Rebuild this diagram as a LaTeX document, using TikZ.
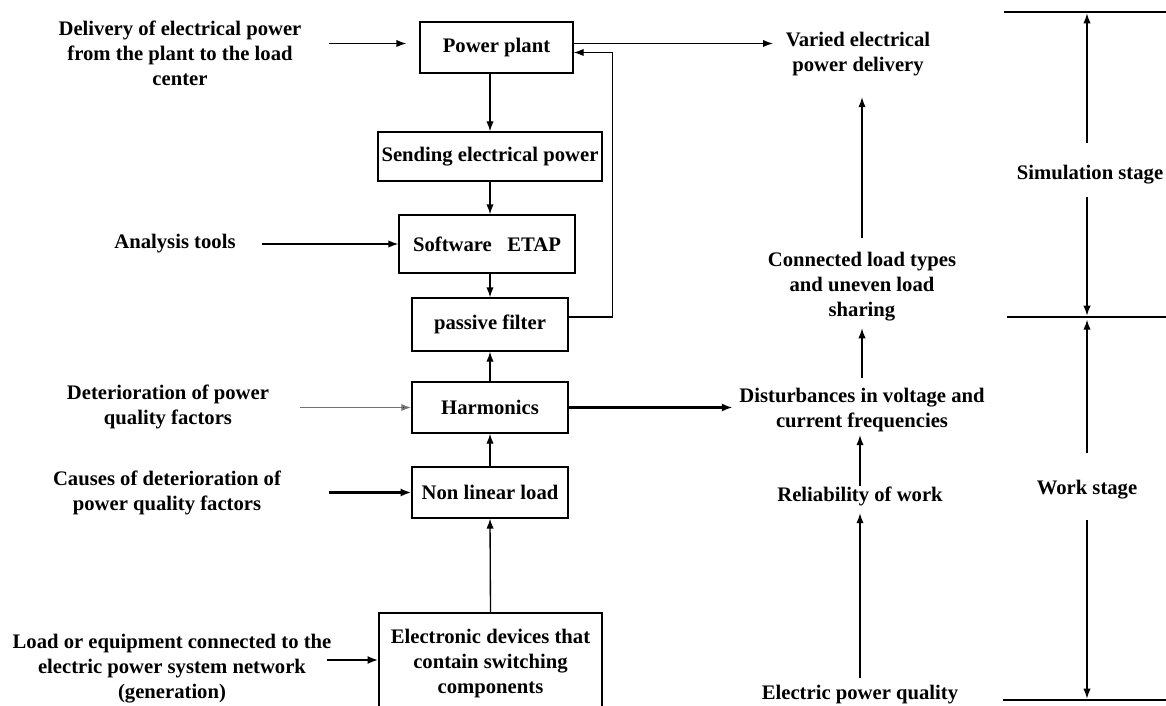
\documentclass[tikz,border=0pt]{standalone}
\usepackage{fontspec}
\setmainfont{Liberation Serif}
\usetikzlibrary{arrows.meta,calc}
\begin{document}
\begin{tikzpicture}[x=0.75pt,y=-0.75pt,
 every node/.style={font=\bfseries\fontsize{15.5pt}{18.75pt}\selectfont, align=center},
 box/.style={draw, line width=1pt, inner sep=0pt},
 lbl/.style={inner sep=0pt},
 arr/.style={line width=1pt, -{Latex[length=7.5pt,width=5.5pt]}},
 arrthick/.style={line width=2pt, -{Latex[length=8pt,width=6pt]}},
 arrgray/.style={line width=1.4pt, draw=black!55, -{Latex[length=7.5pt,width=5.5pt,fill=black]}},
 stageline/.style={line width=2.2pt},
]
\useasboundingbox (0,0) rectangle (1166,706);
\clip (0,0) rectangle (1166,706);

% boxes
\node[box, minimum width=114.75pt, minimum height=38.25pt] (pp) at (496.5,47.5) {Power plant};
\node[box, minimum width=168pt, minimum height=36.75pt] (send) at (490,156.5) {Sending electrical power};
\node[box, minimum width=132pt, minimum height=43.5pt] (etap) at (487,244) {Software\enspace\ ETAP};
\node[box, minimum width=117pt, minimum height=39.75pt] (filt) at (490,324.5) {passive filter};
\node[box, minimum width=117pt, minimum height=38.25pt] (harm) at (490,407.5) {Harmonics};
\node[box, minimum width=117pt, minimum height=38.25pt] (nll) at (490,492.5) {Non linear load};
\node[box, minimum width=167.25pt, minimum height=76.5pt] (elec) at (490.5,664) {Electronic devices that\\contain switching\\components};

% left labels
\node[lbl] (deliv) at (180,53) {Delivery of electrical power\\from the plant to the load\\center};
\node[lbl] (anal) at (175,244) {Analysis tools};
\node[lbl] (deter) at (168,406.5) {Deterioration of power\\quality factors};
\node[lbl] (cause) at (167,493) {Causes of deterioration of\\power quality factors};
\node[lbl] (load) at (172,669) {Load or equipment connected to the\\electric power system network\\(generation)};

% right column labels
\node[lbl] (var) at (858,54.5) {Varied electrical\\power delivery};
\node[lbl] (conn) at (862,287) {Connected load types\\and uneven load\\sharing};
\node[lbl] (dist) at (862,410) {Disturbances in voltage and\\current frequencies};
\node[lbl] (rel) at (860,496) {Reliability of work};
\node[lbl] (epq) at (860,695) {Electric power quality};

% stage labels
\node[lbl] (sim) at (1090,175) {Simulation stage};
\node[lbl] (work) at (1087,490) {Work stage};
\coordinate (t1) at (1087,12);
\coordinate (t2) at (1087,317);
\coordinate (t3) at (1087,700);

% main column connectors
\coordinate (ppin) at ($(pp.west)+(0,-4)$);
\coordinate (ppout) at ($(pp.east)+(0,-4)$);
\coordinate (ppback) at ($(pp.east)+(0,5)$);
\coordinate (filtout) at ($(filt.east)+(0,-7.5)$);
\coordinate (elecin) at ($(elec.west)+(0,-4)$);

\draw[arr, shorten <=20.6pt, shorten >=9.75pt] (deliv.east |- ppin) -- (ppin);
\draw[arr] (pp.south -| send.north) -- (send.north);
\draw[arr] (send.south) -- (send.south |- etap.north);
\draw[arr, shorten <=19.5pt] (anal.east) -- (anal.east -| etap.west);
\draw[arr] (etap.south -| filt.north) -- (filt.north);
\draw[arr] (harm.north) -- (filt.south);
\draw[arrgray, shorten <=22.9pt] (deter.east |- harm.west) -- (harm.west);
\draw[arr] (nll.north) -- (harm.south);
\draw[arrthick, shorten <=35.6pt] (cause.east |- nll.west) -- (nll.west);
\draw[arr] (elec.north) -- (nll.south);
\draw[arrthick, shorten <=-3.75pt] (load.east |- elecin) -- (elecin);

% feedback and output
\draw[arr] (filtout) -- ++(44,0) |- (ppback);
\draw[arr, shorten >=9.4pt] (ppout) -- (ppout -| var.west);
\draw[arrthick, shorten >=4.9pt] (harm.east) -- (harm.east -| dist.west);

% right column connectors
\draw[arr, shorten <=10.9pt, shorten >=15.4pt] (conn.north) -- (conn.north |- var.south);
\draw[arr, shorten <=7.5pt, shorten >=4.9pt] (dist.north) -- (dist.north |- conn.south);
\draw[arr, shorten >=2.25pt] (rel.north) -- (rel.north |- dist.south);
\draw[arr, shorten <=5.6pt, shorten >=5.6pt] (epq.north) -- (epq.north |- rel.south);

% stage markers
\draw[stageline] (1004,12) -- (1170,12);
\draw[stageline] (1007,317) -- (1170,317);
\draw[stageline] (1003,700) -- (1170,700);
\draw[arr, shorten <=16.9pt, shorten >=1pt] (sim.north -| t1) -- (t1);
\draw[arr, shorten <=9.4pt, shorten >=1pt] (sim.south -| t2) -- (t2);
\draw[arr, shorten <=20.6pt, shorten >=2pt] (work.north -| t2) -- (t2);
\draw[arr, shorten <=15.4pt, shorten >=1pt] (work.south -| t3) -- (t3);
\end{tikzpicture}
\end{document}
